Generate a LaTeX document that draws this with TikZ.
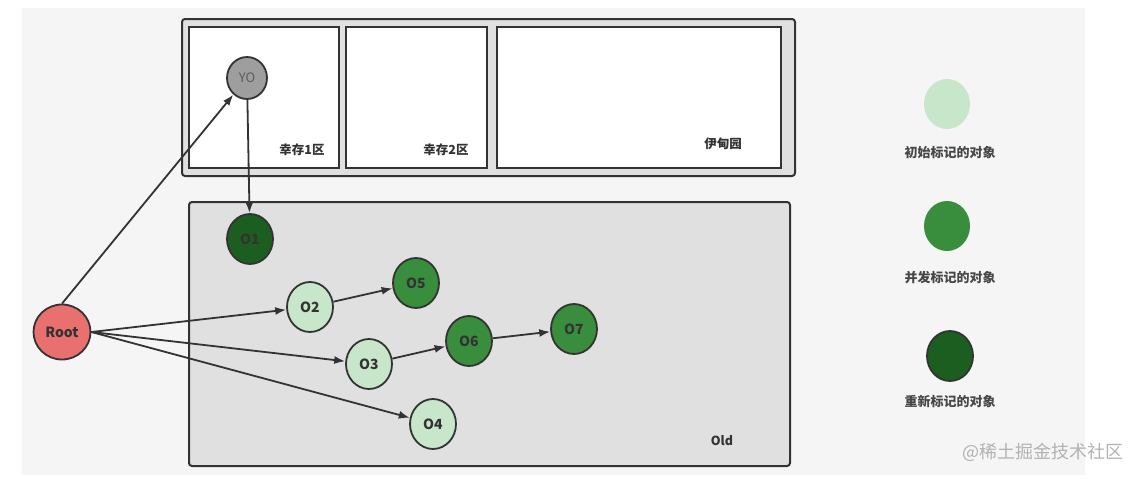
\documentclass[tikz,border=0pt]{standalone}
\usepackage{fontspec}
\setmainfont{Noto Sans CJK SC}
\usepackage{tikz}
\usetikzlibrary{shapes,arrows,arrows.meta,positioning}

\definecolor{bgpanel}{HTML}{F5F5F5}
\definecolor{areagray}{HTML}{E0E0E0}
\definecolor{edgegray}{HTML}{333333}
\definecolor{initgreen}{HTML}{C8E6C9}
\definecolor{concgreen}{HTML}{388E3C}
\definecolor{remarkgreen}{HTML}{1B5E20}
\definecolor{rootred}{HTML}{EA7070}
\definecolor{yogray}{HTML}{9E9E9E}

\begin{document}
\begin{tikzpicture}[x=1pt, y=-1pt, >={Latex[length=11pt,width=8pt]},
    area/.style={draw=edgegray, line width=2pt, rounded corners=3pt, fill=areagray},
    zone/.style={draw=edgegray, line width=2pt, fill=white},
    obj/.style={ellipse, draw=edgegray, line width=1.8pt, minimum width=46pt, minimum height=50pt, inner sep=0pt, font=\fontsize{14}{16}\selectfont\bfseries, text=edgegray},
    init/.style={obj, fill=initgreen},
    conc/.style={obj, fill=concgreen},
    remark/.style={obj, fill=remarkgreen},
    tag/.style={font=\fontsize{12.5}{14}\selectfont\bfseries, text=edgegray},
    legend/.style={font=\fontsize{13}{15}\selectfont\bfseries, text=edgegray!90},
    ar/.style={->, draw=edgegray, line width=1.8pt}]
    \useasboundingbox (0,0) rectangle (1140,479);
    \fill [bgpanel] (22,8) rectangle (1085,475);

    % young generation
    \draw [area] (182,19) rectangle (795,176);
    \draw [zone] (189,27) rectangle (339,168);
    \draw [zone] (346,27) rectangle (487,168);
    \draw [zone] (497,27) rectangle (781,168);
    \node [tag] (s1) at (302,150) {幸存1区};
    \node [tag] (s2) at (446,150) {幸存2区};
    \node [tag] (eden) at (723,144) {伊甸园};

    % old generation
    \draw [area] (189,202) rectangle (790,466);
    \node [tag] (old) at (722,441) {Old};

    % objects
    \node [obj, fill=yogray, minimum width=40pt, minimum height=42pt, font=\fontsize{13}{15}\selectfont, text=edgegray!80] (yo) at (247,78) {YO};
    \node [obj, fill=rootred, minimum width=57pt, minimum height=55pt] (root) at (62,332) {Root};
    \node [remark] (o1) at (250,239) {O1};
    \node [init] (o2) at (310,307) {O2};
    \node [init] (o3) at (369,364) {O3};
    \node [init] (o4) at (433,424) {O4};
    \node [conc] (o5) at (416,283) {O5};
    \node [conc] (o6) at (469,341) {O6};
    \node [conc] (o7) at (574,329) {O7};

    \draw [ar] (root.north) -- (yo);
    \draw [ar] (yo) -- (o1);
    \draw [ar] (root.east) -- (o2);
    \draw [ar] (root.east) -- (o3);
    \draw [ar] (root.east) -- (o4);
    \draw [ar] (o2) -- (o5);
    \draw [ar] (o3) -- (o6);
    \draw [ar] (o6) -- (o7);

    % legend
    \node [obj, draw=none, fill=initgreen] (linit) at (947,104) {};
    \node [obj, draw=none, fill=concgreen] (lconc) at (947,226) {};
    \node [obj, fill=remarkgreen] (lremark) at (950,356) {};
    \node [legend] (tinit) at (950,153) {初始标记的对象};
    \node [legend] (tconc) at (950,278) {并发标记的对象};
    \node [legend] (tremark) at (950,402) {重新标记的对象};

    \node [font=\fontsize{18}{20}\selectfont, text=black!30] (mark) at (1043,452) {@稀土掘金技术社区};
\end{tikzpicture}
\end{document}
